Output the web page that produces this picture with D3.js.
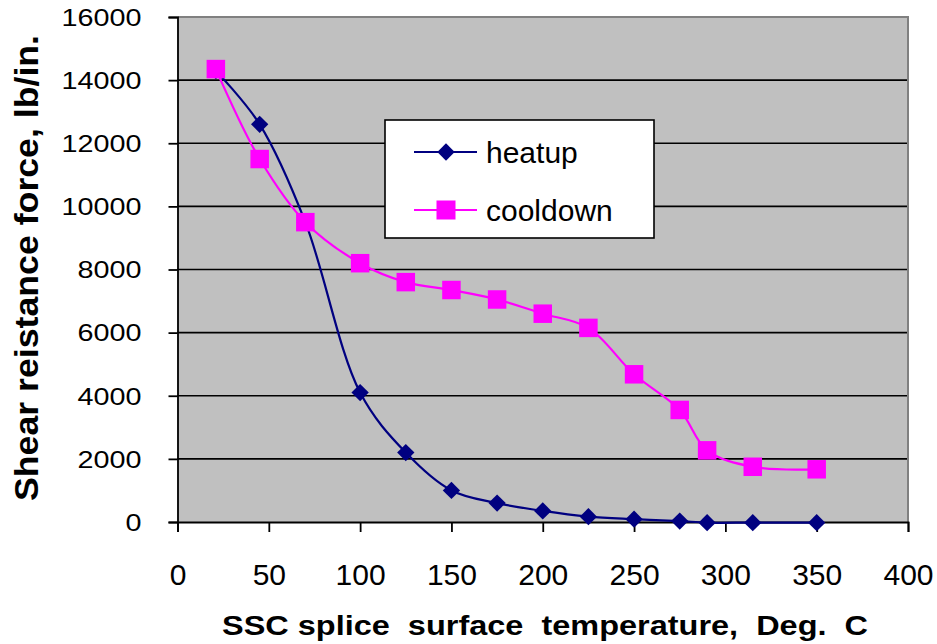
<!DOCTYPE html>
<html>
<head>
<meta charset="utf-8">
<script src="https://cdn.jsdelivr.net/npm/d3@7"></script>
<style>
  html, body { margin: 0; padding: 0; background: #fff; }
  svg { display: block; font-family: "Liberation Sans", Arial, sans-serif; }
</style>
</head>
<body>
<svg id="chart" width="937" height="644"></svg>
<script>
// ---- data ----
const seriesNames = ["heatup", "cooldown"];
const heatupTemp  = [21, 45, 70, 100, 125, 150, 175, 200, 225, 250, 275, 290, 315, 350];
const heatupForce = [14300, 12600, 9500, 4100, 2200, 1000, 600, 350, 170, 90, 30, -20, -20, -20];
const cooldownTemp  = [21, 45, 70, 100, 125, 150, 175, 200, 225, 250, 275, 290, 315, 350];
const cooldownForce = [14350, 11500, 9500, 8200, 7600, 7350, 7050, 6600, 6150, 4680, 3550, 2270, 1750, 1670];
const xTicks = [0, 50, 100, 150, 200, 250, 300, 350, 400];
const yTicks = [0, 2000, 4000, 6000, 8000, 10000, 12000, 14000, 16000];
const xTitle = "SSC splice  surface  temperature,  Deg.  C";
const yTitle = "Shear reistance force, lb/in.";

// ---- layout ----
const svg = d3.select("#chart");
const L = 177.5, R = 908, T = 17, B = 522;
const x = d3.scaleLinear().domain([0, 400]).range([L, R]);
const y = d3.scaleLinear().domain([0, 16000]).range([B, T]);

// plot background
svg.append("rect").attr("x", L).attr("y", T).attr("width", R - L).attr("height", B - T).attr("fill", "#C0C0C0");

// gridlines
svg.append("g").selectAll("line").data(yTicks.filter(d => d > 0 && d < 16000)).join("line")
  .attr("x1", L).attr("x2", R).attr("y1", d => y(d)).attr("y2", d => y(d))
  .attr("stroke", "#000").attr("stroke-width", 1.6);

// plot border top/right (gray)
svg.append("path").attr("d", `M${L},${T}H${R}V${B}`).attr("fill", "none").attr("stroke", "#808080").attr("stroke-width", 2);

// x axis
const xAxis = d3.axisBottom(x).tickValues(xTicks).tickSize(10).tickPadding(14).tickFormat(d3.format("d"));
const gx = svg.append("g").attr("transform", `translate(0,${B})`).call(xAxis);
gx.select(".domain").attr("stroke", "#000").attr("stroke-width", 1.8);
gx.selectAll(".tick line").attr("stroke", "#000").attr("stroke-width", 1.8);
gx.selectAll(".tick text").attr("font-size", 30).attr("fill", "#000")
  .attr("font-family", "'Liberation Sans', Arial, sans-serif").attr("dy", "0").attr("y", 63);

// y axis
const yAxis = d3.axisLeft(y).tickValues(yTicks).tickSize(9).tickPadding(0).tickFormat(d3.format("d"));
const gy = svg.append("g").attr("transform", `translate(${L},0)`).call(yAxis);
gy.select(".domain").attr("stroke", "#000").attr("stroke-width", 1.8);
gy.selectAll(".tick line").attr("stroke", "#000").attr("stroke-width", 1.8);
gy.selectAll(".tick text").attr("font-size", 23).attr("fill", "#000")
  .attr("font-family", "'Liberation Sans', Arial, sans-serif")
  .attr("x", 0).attr("dy", "0.36em")
  .attr("transform", "translate(-36,0) scale(1.25,1)");

// series
const heat = heatupTemp.map((t, i) => ({t, f: heatupForce[i]}));
const cool = cooldownTemp.map((t, i) => ({t, f: cooldownForce[i]}));
const line = d3.line().x(d => x(d.t)).y(d => y(d.f)).curve(d3.curveCatmullRom.alpha(0.5));
const diamondPath = d3.symbol().type(d3.symbolSquare).size(150);

// heatup: line then markers
svg.append("path").datum(heat).attr("d", line).attr("fill", "none").attr("stroke", "#000080").attr("stroke-width", 2.2);
svg.append("g").selectAll("path").data(heat).join("path")
  .attr("transform", d => `translate(${x(d.t)},${y(d.f)}) rotate(45)`)
  .attr("d", diamondPath).attr("fill", "#000080");

// cooldown: line then markers (drawn on top)
svg.append("path").datum(cool).attr("d", line).attr("fill", "none").attr("stroke", "#FF00FF").attr("stroke-width", 2.2);
const sq = 18.5;
svg.append("g").selectAll("rect").data(cool).join("rect")
  .attr("x", d => x(d.t) - sq / 2).attr("y", d => y(d.f) - sq / 2)
  .attr("width", sq).attr("height", sq).attr("fill", "#FF00FF");

// legend
const lg = svg.append("g");
lg.append("rect").attr("x", 385).attr("y", 120).attr("width", 269).attr("height", 118)
  .attr("fill", "#fff").attr("stroke", "#000").attr("stroke-width", 1.6);
const legendColors = ["#000080", "#FF00FF"];
const legendY = [152, 210];
seriesNames.forEach((name, i) => {
  lg.append("line").attr("x1", 414).attr("x2", 477).attr("y1", legendY[i]).attr("y2", legendY[i])
    .attr("stroke", legendColors[i]).attr("stroke-width", 2.2);
  if (i === 0) {
    lg.append("path").attr("transform", `translate(446,${legendY[i]}) rotate(45)`)
      .attr("d", diamondPath).attr("fill", legendColors[i]);
  } else {
    lg.append("rect").attr("x", 446 - 9.5).attr("y", legendY[i] - 9.5).attr("width", 19).attr("height", 19)
      .attr("fill", legendColors[i]);
  }
  lg.append("text").attr("x", 486).attr("y", legendY[i] + 11).attr("font-size", 30).attr("fill", "#000").text(name);
});

// axis titles
svg.append("text").attr("x", 545).attr("y", 635).attr("text-anchor", "middle")
  .style("white-space", "pre")
  .attr("font-size", 28).attr("font-weight", "bold").attr("fill", "#000")
  .attr("textLength", 646).attr("lengthAdjust", "spacingAndGlyphs").text(xTitle);

svg.append("text").attr("transform", "translate(37.5,268) rotate(-90)").attr("text-anchor", "middle")
  .attr("font-size", 33).attr("font-weight", "bold").attr("fill", "#000")
  .attr("textLength", 466).attr("lengthAdjust", "spacingAndGlyphs").text(yTitle);
</script>
</body>
</html>
